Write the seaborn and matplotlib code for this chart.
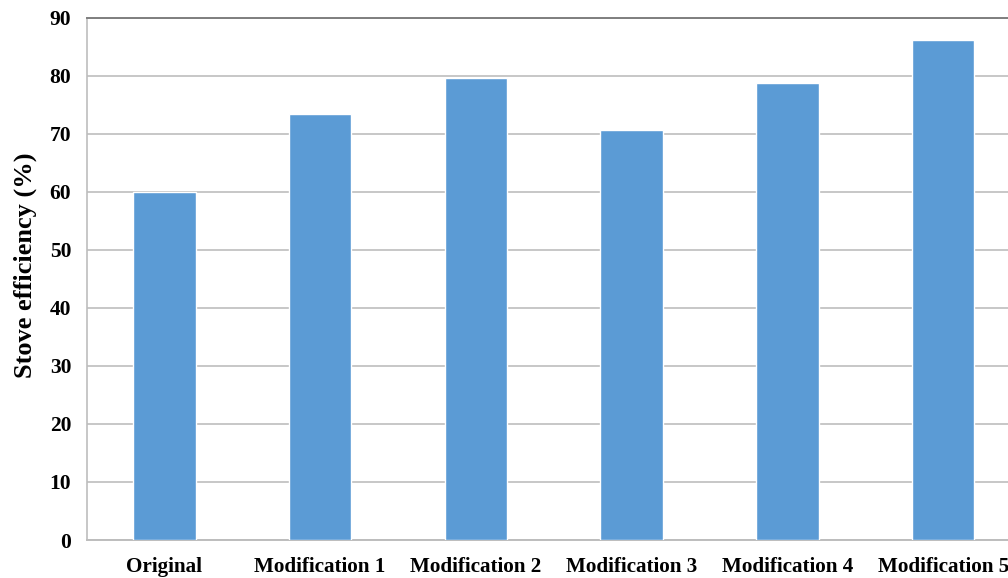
import matplotlib
matplotlib.use("Agg")
import matplotlib.pyplot as plt
import seaborn as sns
import pandas as pd

categories = ["Original", "Modification 1", "Modification 2",
              "Modification 3", "Modification 4", "Modification 5"]
efficiency = [60.0, 73.3, 79.6, 70.7, 78.7, 86.2]
y_ticks = [0, 10, 20, 30, 40, 50, 60, 70, 80, 90]

df = pd.DataFrame({"stage": categories, "efficiency": efficiency})

sns.set_style("white")
plt.rcParams["font.family"] = ["Liberation Serif", "DejaVu Serif"]
plt.rcParams["font.weight"] = "bold"

fig = plt.figure(figsize=(10.08, 5.78), dpi=100)
ax = fig.add_axes([86.5 / 1008, 38 / 578, (1021 - 86.5) / 1008, (540 - 17.5) / 578])

sns.barplot(data=df, x="stage", y="efficiency", color="#5B9BD5",
            saturation=1, width=0.4, ax=ax, zorder=3)

ax.set_ylim(0, 90)
ax.set_xlim(-0.5, len(categories) - 0.5)
ax.set_yticks(y_ticks)
ax.yaxis.grid(True, color="#BDBDBD", linewidth=1.2, zorder=0)
ax.xaxis.grid(False)

ax.spines["right"].set_visible(False)
ax.spines["top"].set_color("#7F7F7F")
ax.spines["top"].set_linewidth(1.4)
ax.spines["left"].set_color("#BDBDBD")
ax.spines["left"].set_linewidth(1.2)
ax.spines["bottom"].set_color("#BDBDBD")
ax.spines["bottom"].set_linewidth(1.4)

ax.tick_params(axis="both", length=0, labelcolor="black")
ax.tick_params(axis="y", pad=11, labelsize=15.5)
ax.tick_params(axis="x", pad=12, labelsize=15.2)
for lbl in ax.get_xticklabels() + ax.get_yticklabels():
    lbl.set_fontweight("bold")

ax.set_xlabel("")
ax.set_ylabel("Stove efficiency (%)", fontsize=19, fontweight="bold", color="black")
ax.yaxis.set_label_coords(-0.053, 0.526)

fig.savefig("out.png", dpi=100)
